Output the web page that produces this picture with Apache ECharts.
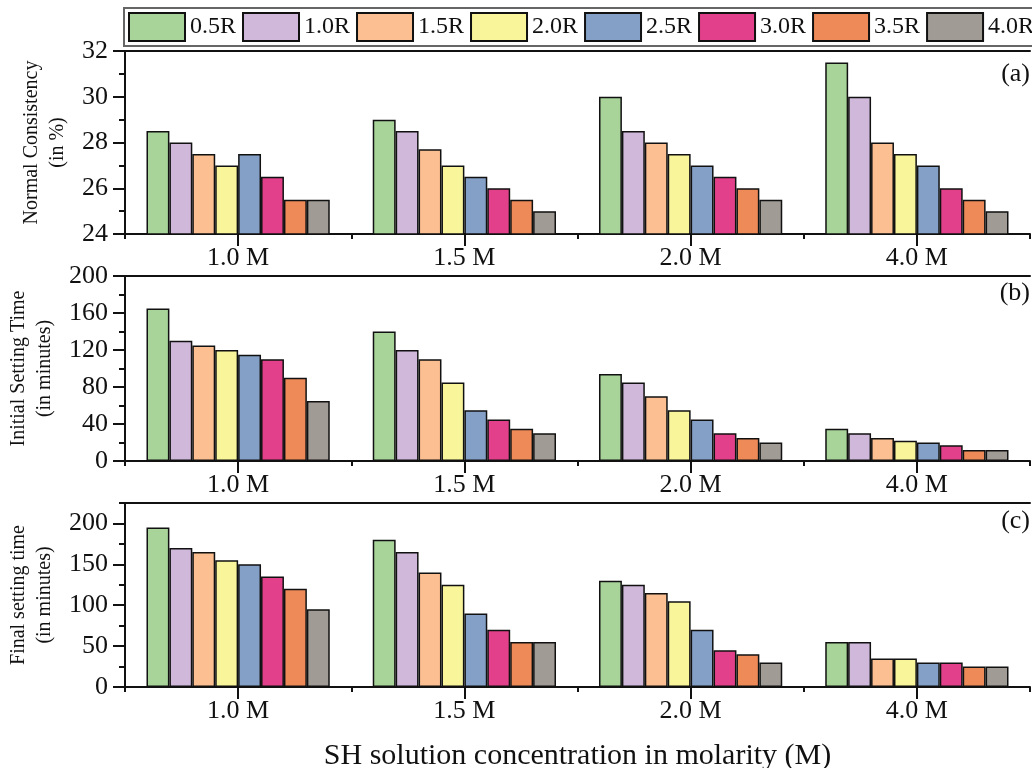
<!DOCTYPE html>
<html>
<head>
<meta charset="utf-8">
<script src="https://cdn.jsdelivr.net/npm/echarts@6/dist/echarts.min.js"></script>
<style>
html,body{margin:0;padding:0;background:#fff;}
#chart{width:1032px;height:768px;}
</style>
</head>
<body>
<div id="chart"></div>
<script>
// ---------- data ----------
const categories = ['1.0 M', '1.5 M', '2.0 M', '4.0 M'];
const ratios = ['0.5R', '1.0R', '1.5R', '2.0R', '2.5R', '3.0R', '3.5R', '4.0R'];
const colors = ['#a8d49a', '#cfb8da', '#fbbf91', '#f9f59b', '#84a0c7', '#e2408a', '#ee8a58', '#a19b96'];

// Normal consistency (%) – values per ratio, one array per molarity
const consistency1M = [28.5, 28, 27.5, 27, 27.5, 26.5, 25.5, 25.5];
const consistency15M = [29, 28.5, 27.7, 27, 26.5, 26, 25.5, 25];
const consistency2M = [30, 28.5, 28, 27.5, 27, 26.5, 26, 25.5];
const consistency4M = [31.5, 30, 28, 27.5, 27, 26, 25.5, 25];

// Initial setting time (minutes)
const initial1M = [165, 130, 125, 120, 115, 110, 90, 65];
const initial15M = [140, 120, 110, 85, 55, 45, 35, 30];
const initial2M = [94, 85, 70, 55, 45, 30, 25, 20];
const initial4M = [35, 30, 25, 22, 20, 17, 12, 12];

// Final setting time (minutes)
const final1M = [195, 170, 165, 155, 150, 135, 120, 95];
const final15M = [180, 165, 140, 125, 90, 70, 55, 55];
const final2M = [130, 125, 115, 105, 70, 45, 40, 30];
const final4M = [55, 55, 35, 35, 30, 30, 25, 25];

const yTicksA = [24, 26, 28, 30, 32];
const yTicksB = [0, 40, 80, 120, 160, 200];
const yTicksC = [0, 50, 100, 150, 200];

const panelNames = ['Normal Consistency\n(in %)', 'Initial Setting Time\n(in minutes)', 'Final setting time\n(in minutes)'];
const panelTags = ['(a)', '(b)', '(c)'];
const xTitle = 'SH solution concentration in molarity (M)';

// ---------- layout ----------
const FONT = 'Liberation Serif';
const panels = [
  { data: [consistency1M, consistency15M, consistency2M, consistency4M], ticks: yTicksA, min: 24, max: 32, interval: 2, top: 51, height: 183, tagY: 75 },
  { data: [initial1M, initial15M, initial2M, initial4M], ticks: yTicksB, min: 0, max: 200, interval: 40, top: 276, height: 185, tagY: 294 },
  { data: [final1M, final15M, final2M, final4M], ticks: yTicksC, min: 0, max: 225, interval: 50, top: 503, height: 184, tagY: 522 }
];

const grids = [], xAxes = [], yAxes = [], series = [], graphics = [];
panels.forEach((p, pi) => {
  grids.push({ left: 125, width: 905, top: p.top, height: p.height, show: false, containLabel: false, outerBoundsMode: 'none' });
  // main bottom axis: labels + centre ticks
  xAxes.push({
    type: 'category', gridIndex: pi, data: categories, position: 'bottom',
    axisLine: { show: true, lineStyle: { color: '#111', width: 2 } },
    axisTick: { show: true, alignWithLabel: true, length: 12, lineStyle: { color: '#111', width: 2 } },
    axisLabel: { fontFamily: FONT, fontSize: 26, color: '#111', margin: 11 },
    name: pi === 2 ? xTitle : '', nameLocation: 'middle', nameGap: 54,
    nameTextStyle: { fontFamily: FONT, fontSize: 30, color: '#111' }
  });
  // boundary ticks
  xAxes.push({
    type: 'category', gridIndex: pi, data: categories, position: 'bottom', offset: 0,
    axisLine: { show: false }, axisLabel: { show: false },
    axisTick: { show: true, length: 5, lineStyle: { color: '#111', width: 2 } }
  });
  // top frame line
  xAxes.push({
    type: 'category', gridIndex: pi, data: categories, position: 'top',
    axisLine: { show: true, lineStyle: { color: '#111', width: 2 } },
    axisTick: { show: false }, axisLabel: { show: false }
  });
  // main y axis
  yAxes.push({
    type: 'value', gridIndex: pi, min: p.min, max: p.max, interval: p.interval,
    axisLine: { show: true, lineStyle: { color: '#111', width: 2 } },
    axisTick: { show: true, length: 12, customValues: p.ticks, lineStyle: { color: '#111', width: 2 } },
    axisLabel: { fontFamily: FONT, fontSize: 26, color: '#111', margin: 17, customValues: p.ticks },
    splitLine: { show: false },
    name: panelNames[pi], nameLocation: 'middle', nameGap: 50,
    nameTextStyle: { fontFamily: FONT, fontSize: 20, color: '#111', lineHeight: 26 }
  });
  // minor y ticks
  yAxes.push({
    type: 'value', gridIndex: pi, min: p.min, max: p.max, interval: p.interval / 2, position: 'left', offset: 0,
    axisLine: { show: false }, axisLabel: { show: false }, splitLine: { show: false },
    axisTick: { show: true, length: 6, lineStyle: { color: '#111', width: 2 } }
  });
  ratios.forEach((r, ri) => {
    series.push({
      type: 'bar', name: r, xAxisIndex: pi * 3, yAxisIndex: pi * 2,
      data: p.data.map(arr => arr[ri]),
      barGap: '0%', barCategoryGap: '19%',
      itemStyle: { color: colors[ri], borderColor: '#111', borderWidth: 1.5 },
      emphasis: { disabled: true }
    });
  });
  graphics.push({
    type: 'text', right: 2, top: p.tagY - 14,
    style: { text: panelTags[pi], font: '26px "Liberation Serif"', fill: '#111' }
  });
});

const chart = echarts.init(document.getElementById('chart'), null, { renderer: 'canvas' });
chart.setOption({
  backgroundColor: '#fff',
  animation: false,
  legend: {
    data: ratios, left: 124, top: 8, width: 960, orient: 'horizontal',
    padding: [4, 5, 4, 4], itemGap: 6, itemWidth: 56, itemHeight: 28, icon: 'rect',
    borderColor: '#666', borderWidth: 2,
    itemStyle: { borderColor: '#111', borderWidth: 2 },
    textStyle: { fontFamily: FONT, fontSize: 24, color: '#111' },
    selectedMode: false
  },
  grid: grids,
  xAxis: xAxes,
  yAxis: yAxes,
  series: series,
  graphic: graphics
});
</script>
</body>
</html>
